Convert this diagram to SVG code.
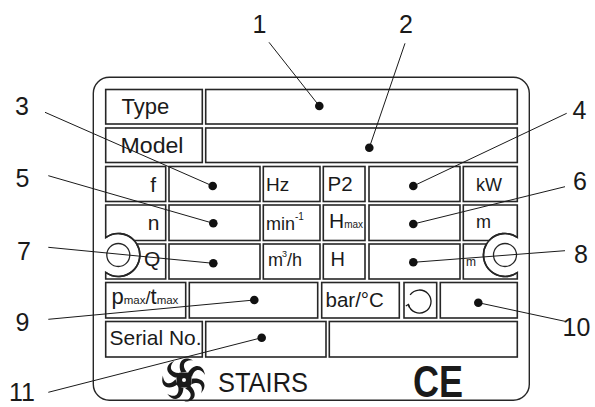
<svg xmlns="http://www.w3.org/2000/svg" width="595" height="407" viewBox="0 0 595 407">
<style>
.box{fill:#fff;stroke:#262626;stroke-width:1.6}
.ln{fill:none;stroke:#262626;stroke-width:1.6}
.lead{fill:none;stroke:#1a1a1a;stroke-width:1}
.dot{fill:#111}
.num{font-family:"Liberation Sans",Arial,sans-serif;font-size:25px;fill:#1a1a1a}
.t{font-family:"Liberation Sans",Arial,sans-serif;fill:#1a1a1a}
</style>
<rect width="595" height="407" fill="#fff"/>
<g id="plate">
<rect x="93.3" y="77.3" width="436" height="323" rx="16" fill="#fff" stroke="#262626" stroke-width="1.4"/>
</g>
<g id="row-type">
<rect class="box" x="105.7" y="89.5" width="96.6" height="34.5"/>
<rect class="box" x="205.7" y="89.5" width="311.6" height="34.5"/>
<text class="t" x="121.5" y="113.5" font-size="22">Type</text>
</g>
<g id="row-model">
<rect class="box" x="105.7" y="128" width="96.6" height="34.5"/>
<rect class="box" x="205.7" y="128" width="311.6" height="34.5"/>
<text class="t" x="120.5" y="152.5" font-size="22" textLength="63" lengthAdjust="spacingAndGlyphs">Model</text>
</g>
<g id="row-f">
<rect class="box" x="105.7" y="166.5" width="60" height="35"/>
<rect class="box" x="169" y="166.5" width="91" height="35"/>
<rect class="box" x="263.3" y="166.5" width="56.7" height="35"/>
<rect class="box" x="323.3" y="166.5" width="41.7" height="35"/>
<rect class="box" x="369" y="166.5" width="91" height="35"/>
<rect class="box" x="463.3" y="166.5" width="54" height="35"/>
<text class="t" x="156" y="192" font-size="21" text-anchor="end">f</text>
<text class="t" x="266" y="191" font-size="19">Hz</text>
<text class="t" x="327.5" y="191" font-size="20.5">P2</text>
<text class="t" x="476" y="191" font-size="18">kW</text>
</g>
<g id="row-n">
<path class="box" d="M134.2,240.5 H165.7 V205 H105.7 V237.6 A21.5,21.5 0 0 1 134.2,240.5 Z"/>
<rect class="box" x="169" y="205" width="91" height="35.5"/>
<rect class="box" x="263.3" y="205" width="56.7" height="35.5"/>
<rect class="box" x="323.3" y="205" width="41.7" height="35.5"/>
<rect class="box" x="369" y="205" width="91" height="35.5"/>
<path class="box" d="M489.1,240.5 H463.3 V205 H517.3 V237.4 A21.5,21.5 0 0 0 489.1,240.5 Z"/>
<text class="t" x="159.5" y="230" font-size="21" text-anchor="end">n</text>
<text class="t" x="266" y="230" font-size="18">min<tspan font-size="10" dy="-10">-1</tspan></text>
<text class="t" x="329" y="227.5" font-size="21">H<tspan font-size="10">max</tspan></text>
<text class="t" x="476" y="227.5" font-size="18">m</text>
</g>
<g id="row-q">
<path class="box" d="M105.7,272.4 V279 H165.7 V244 H136.8 A21.5,21.5 0 0 1 105.7,272.4 Z"/>
<rect class="box" x="169" y="244" width="91" height="35"/>
<rect class="box" x="263.3" y="244" width="56.7" height="35"/>
<rect class="box" x="323.3" y="244" width="41.7" height="35"/>
<rect class="box" x="369" y="244" width="91" height="35"/>
<path class="box" d="M517.3,272.6 V279 H463.3 V244 H486.5 A21.5,21.5 0 0 0 517.3,272.6 Z"/>
<text class="t" x="144" y="266" font-size="21">Q</text>
<text class="t" x="268" y="266" font-size="18">m<tspan font-size="9" dy="-9" dx="-1">3</tspan><tspan dy="9">/h</tspan></text>
<text class="t" x="330.5" y="266" font-size="20">H</text>
<text class="t" x="466" y="266" font-size="12">m</text>
</g>
<g id="mount-left">
<path class="ln" d="M105.7,237.6 A21.5,21.5 0 1 1 105.7,272.4"/>
<circle cx="118.3" cy="255" r="11.5" fill="none" stroke="#262626" stroke-width="1.3"/>
</g>
<g id="mount-right">
<path class="ln" d="M517.3,237.4 A21.5,21.5 0 1 0 517.3,272.6"/>
<circle cx="505" cy="255" r="11.5" fill="none" stroke="#262626" stroke-width="1.3"/>
</g>
<g id="row-p">
<rect class="box" x="105.7" y="282.5" width="80" height="35.5"/>
<rect class="box" x="189.3" y="282.5" width="128.4" height="35.5"/>
<rect class="box" x="321.7" y="282.5" width="77.6" height="35.5"/>
<rect class="box" x="404" y="282.5" width="32.7" height="35.5"/>
<rect class="box" x="440.3" y="282.5" width="77" height="35.5"/>
<text class="t" x="111.5" y="304" font-size="22">p<tspan font-size="11.5">max</tspan><tspan font-size="18">/</tspan>t<tspan font-size="11.5">max</tspan></text>
<text class="t" x="325.5" y="306.5" font-size="20.5">bar/°C</text>
<path fill="none" stroke="#1a1a1a" stroke-width="1.3" d="M410.1,294.9 A11.5,11.5 0 1 1 408.4,304.5"/>
<path fill="none" stroke="#1a1a1a" stroke-width="1.3" d="M405.8,306 L408.4,304.5 L409.5,307.5"/>
</g>
<g id="row-serial">
<rect class="box" x="105.7" y="321.5" width="96.6" height="35.5"/>
<rect class="box" x="205.7" y="321.5" width="120.3" height="35.5"/>
<rect class="box" x="329.3" y="321.5" width="188" height="35.5"/>
<text class="t" x="109.5" y="344.5" font-size="21" textLength="92" lengthAdjust="spacingAndGlyphs">Serial No.</text>
</g>
<g id="logo">
<g transform="translate(184,380)" fill="#1a1a1a">
<path id="blade" d="M4,-7 C9,-16 19,-17 21,-5 C17,-12 10,-12 8,-3 Z"/>
<use href="#blade" transform="rotate(51.4)"/>
<use href="#blade" transform="rotate(102.8)"/>
<use href="#blade" transform="rotate(154.2)"/>
<use href="#blade" transform="rotate(205.6)"/>
<use href="#blade" transform="rotate(257)"/>
<use href="#blade" transform="rotate(308.4)"/>
<rect x="-7.5" y="-7.5" width="15" height="15" rx="4.5"/>
<circle cx="0" cy="0" r="2" fill="#fff"/>
</g>
<text class="t" x="218" y="392" font-size="27" textLength="90" lengthAdjust="spacingAndGlyphs">STAIRS</text>
</g>
<g id="ce">
<text class="t" x="413" y="397" font-size="44" font-weight="bold" textLength="50" lengthAdjust="spacingAndGlyphs">CE</text>
</g>
<g id="connectors">
<line class="lead" x1="269" y1="42.3" x2="319.3" y2="106"/>
<line class="lead" x1="405" y1="43.3" x2="369.3" y2="147.7"/>
<line class="lead" x1="45" y1="112.3" x2="212.7" y2="186"/>
<line class="lead" x1="566.7" y1="113.3" x2="413.3" y2="186"/>
<line class="lead" x1="48.3" y1="175.7" x2="213.3" y2="223.3"/>
<line class="lead" x1="565" y1="186.7" x2="413.3" y2="224"/>
<line class="lead" x1="48.3" y1="247.3" x2="213.3" y2="263.3"/>
<line class="lead" x1="565" y1="250.7" x2="413.3" y2="262.3"/>
<line class="lead" x1="48.3" y1="319.3" x2="254.3" y2="300"/>
<line class="lead" x1="566.7" y1="321.7" x2="478.3" y2="302.7"/>
<line class="lead" x1="48.3" y1="392.3" x2="261.7" y2="337.7"/>
<circle class="dot" cx="319.3" cy="106" r="4.3"/>
<circle class="dot" cx="369.3" cy="147.7" r="4.3"/>
<circle class="dot" cx="212.7" cy="186" r="4.3"/>
<circle class="dot" cx="413.3" cy="186" r="4.3"/>
<circle class="dot" cx="213.3" cy="223.3" r="4.3"/>
<circle class="dot" cx="413.3" cy="224" r="4.3"/>
<circle class="dot" cx="213.3" cy="263.3" r="4.3"/>
<circle class="dot" cx="413.3" cy="262.3" r="4.3"/>
<circle class="dot" cx="254.3" cy="300" r="4.3"/>
<circle class="dot" cx="478.3" cy="302.7" r="4.3"/>
<circle class="dot" cx="261.7" cy="337.7" r="4.3"/>
</g>
<g id="callouts">
<text class="num" x="252.5" y="32.5">1</text>
<text class="num" x="399" y="32.5">2</text>
<text class="num" x="15" y="115">3</text>
<text class="num" x="572.5" y="118.5">4</text>
<text class="num" x="15.5" y="187">5</text>
<text class="num" x="573" y="190">6</text>
<text class="num" x="17" y="260">7</text>
<text class="num" x="574" y="263">8</text>
<text class="num" x="15.5" y="331">9</text>
<text class="num" x="562.5" y="336">10</text>
<text class="num" x="9" y="401">11</text>
</g>
</svg>
